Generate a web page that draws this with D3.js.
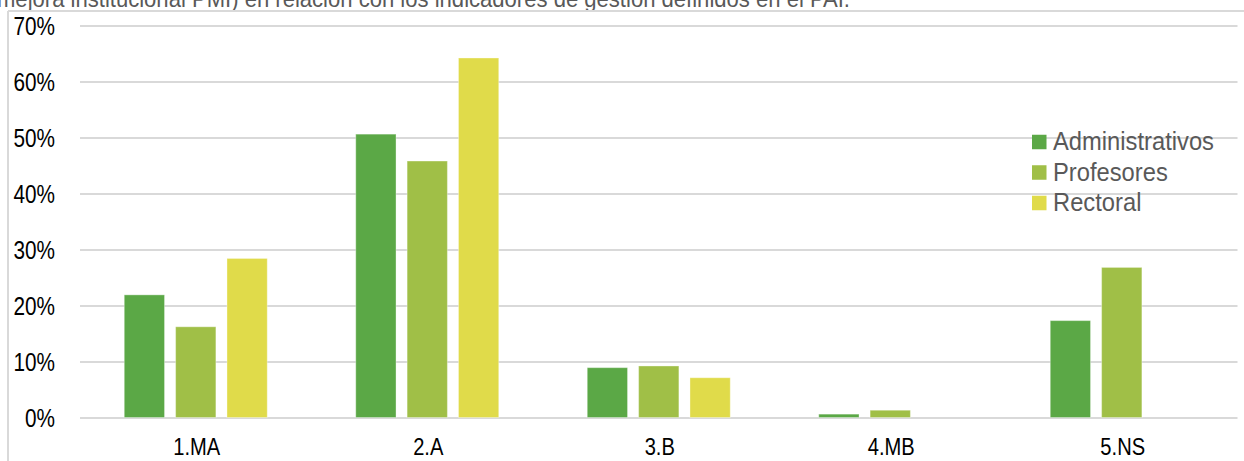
<!DOCTYPE html>
<html>
<head>
<meta charset="utf-8">
<script src="https://cdn.jsdelivr.net/npm/d3@7"></script>
<style>
  html, body { margin: 0; padding: 0; background: #ffffff; }
  svg { display: block; font-family: "Liberation Sans", Arial, sans-serif; }
</style>
</head>
<body>
<svg id="chart" width="1244" height="461"></svg>
<script>
const categories = ["1.MA", "2.A", "3.B", "4.MB", "5.NS"];
const seriesNames = ["Administrativos", "Profesores", "Rectoral"];
const administrativos = [0.219, 0.506, 0.089, 0.006, 0.173];
const profesores = [0.162, 0.458, 0.092, 0.013, 0.268];
const rectoral = [0.284, 0.642, 0.071, 0, 0];
const seriesColors = ["#5BA846", "#A0BF47", "#E0DB4A"];
const yTicks = [0, 0.1, 0.2, 0.3, 0.4, 0.5, 0.6, 0.7];
const titleText = "mejora institucional PMI) en relación con los indicadores de gestión definidos en el PAI.";

const seriesValues = [administrativos, profesores, rectoral];
const svg = d3.select("#chart");
const W = 1244, H = 461;
const plotLeft = 80, plotRight = 1237.5, plotTop = 25.5, plotBottom = 417.5;

svg.append("rect").attr("width", W).attr("height", H).attr("fill", "#fff");

// cut-off title (only its lower part is visible, as in the reference)
svg.append("text")
  .attr("x", -3).attr("y", 7)
  .attr("font-size", 24)
  .attr("fill", "#595959")
  .attr("textLength", 853)
  .attr("lengthAdjust", "spacingAndGlyphs")
  .text(titleText);

// frame
svg.append("line").attr("x1", 8).attr("x2", W).attr("y1", 11).attr("y2", 11)
  .attr("stroke", "#d9d9d9").attr("stroke-width", 2);
svg.append("line").attr("x1", 8).attr("x2", 8).attr("y1", 11).attr("y2", H)
  .attr("stroke", "#d9d9d9").attr("stroke-width", 2);

const y = d3.scaleLinear().domain([0, 0.7]).range([plotBottom, plotTop]);
const x0 = d3.scaleBand().domain(categories).range([plotLeft, plotRight]).padding(0);
const groupW = 143;
const x1 = d3.scaleBand().domain(seriesNames)
  .range([(x0.bandwidth() - groupW) / 2, (x0.bandwidth() + groupW) / 2])
  .paddingInner(0.216).paddingOuter(0);

// y axis with gridlines
const yAxis = svg.append("g").attr("transform", `translate(${plotLeft},0)`)
  .call(d3.axisLeft(y).tickValues(yTicks).tickFormat(d3.format(".0%"))
    .tickSize(-(plotRight - plotLeft)).tickPadding(25));
yAxis.select(".domain").remove();
yAxis.selectAll(".tick line").attr("stroke", "#d9d9d9").attr("stroke-width", 2);
yAxis.selectAll(".tick text")
  .attr("x", 0).attr("dy", "0.36em")
  .attr("transform", "translate(-25,0) scale(0.83,1)")
  .attr("font-size", 25).attr("fill", "#000")
  .attr("font-family", "Liberation Sans, Arial, sans-serif");

// bars
const groups = svg.append("g").selectAll("g")
  .data(categories).join("g")
  .attr("transform", d => `translate(${x0(d)},0)`);
groups.selectAll("rect")
  .data((d, i) => seriesNames.map((s, j) => ({ s, j, v: seriesValues[j][i] })).filter(e => e.v > 0))
  .join("rect")
  .attr("x", d => x1(d.s))
  .attr("width", x1.bandwidth())
  .attr("y", d => y(d.v))
  .attr("height", d => y(0) - y(d.v))
  .attr("fill", d => seriesColors[d.j])
  .attr("stroke", "#ffffff").attr("stroke-opacity", 0.35).attr("stroke-width", 1);

// x axis
const xAxis = svg.append("g").attr("transform", `translate(0,${plotBottom})`)
  .call(d3.axisBottom(x0).tickSize(0).tickPadding(25));
xAxis.select(".domain").remove();
xAxis.selectAll(".tick text")
  .attr("y", 0).attr("dy", null)
  .attr("transform", "translate(1,37.5) scale(0.84,1)")
  .attr("font-size", 24).attr("fill", "#000")
  .attr("font-family", "Liberation Sans, Arial, sans-serif");

// legend
const legend = svg.append("g").attr("transform", "translate(1032,142)");
const items = legend.selectAll("g").data(seriesNames).join("g")
  .attr("transform", (d, i) => `translate(0,${i * 30.5})`);
items.append("rect").attr("x", 0).attr("y", -7.25).attr("width", 14.5).attr("height", 14.5)
  .attr("fill", (d, i) => seriesColors[i]);
items.append("text")
  .attr("transform", "translate(21,8) scale(0.95,1)")
  .attr("font-size", 25).attr("fill", "#595959")
  .text(d => d);
</script>
</body>
</html>
